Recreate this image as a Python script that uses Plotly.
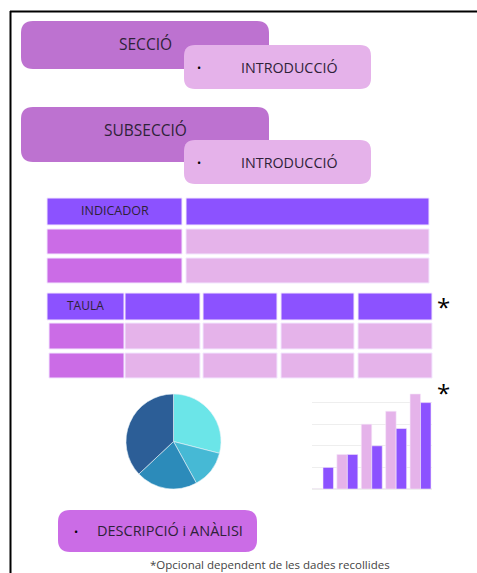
import plotly.graph_objects as go

# ---- data ----
section_labels = ["SECCIÓ", "SUBSECCIÓ"]
bullet_labels = ["INTRODUCCIÓ", "INTRODUCCIÓ"]
indicator_header = "INDICADOR"
table_header = "TAULA"
pie_labels = ["A", "B", "C", "D"]
pie_values = [29, 13, 21, 37]
bar_categories = ["1", "2", "3", "4", "5"]
bar_light = [0, 1.6, 3.0, 3.6, 4.4]
bar_dark = [1.0, 1.6, 2.0, 2.8, 4.0]
analysis_label = "DESCRIPCIÓ i ANÀLISI"
footnote = "*Opcional dependent de les dades recollides"

# ---- styles ----
W, H = 477, 573
FONT = "Open Sans"
TXT = "#2e2238"
C_SECTION = "#bd72d0"
C_BULLET = "#e5b2ea"
C_HEAD = "#8c52ff"
C_ROW = "#cb6ce6"
C_CELL = "#e5b3ea"
PIE_COLORS = ["#6be5e8", "#46b9d5", "#2c8bba", "#2c5e97"]


def rrect(x0, y0, x1, y1, r):
    return (f"M{x0+r},{y0} L{x1-r},{y0} Q{x1},{y0} {x1},{y0+r} "
            f"L{x1},{y1-r} Q{x1},{y1} {x1-r},{y1} L{x0+r},{y1} "
            f"Q{x0},{y1} {x0},{y1-r} L{x0},{y0+r} Q{x0},{y0} {x0+r},{y0} Z")


shapes = []
ann = []


def box(x0, y0, x1, y1, r, color):
    shapes.append(dict(type="path", path=rrect(x0, y0, x1, y1, r), xref="x", yref="y",
                       fillcolor=color, line=dict(width=0), layer="below"))


def cell(x0, y0, x1, y1, color):
    shapes.append(dict(type="rect", x0=x0, y0=y0, x1=x1, y1=y1, xref="x", yref="y",
                       fillcolor=color, line=dict(color="#f3e6ff", width=1), layer="below"))


def text(x, y, s, size, color=TXT, xanchor="center"):
    ann.append(dict(x=x, y=y, xref="x", yref="y", text=s, showarrow=False,
                    xanchor=xanchor, yanchor="middle",
                    font=dict(family=FONT, size=size, color=color)))


# frame
shapes.append(dict(type="line", x0=10, y0=11.5, x1=W, y1=11.5, xref="x", yref="y",
                   line=dict(color="black", width=2)))
shapes.append(dict(type="line", x0=10.5, y0=11, x1=10.5, y1=H, xref="x", yref="y",
                   line=dict(color="black", width=2)))

# section / bullet boxes
sec_y = [(21, 69), (107, 162)]
bul_y = [(45, 89), (140, 184)]
for i in range(2):
    box(21, sec_y[i][0], 269, sec_y[i][1], 12, C_SECTION)
    text(145, sec_y[i][0] + 23, section_labels[i], 15.5)
    box(184, bul_y[i][0], 371, bul_y[i][1], 11, C_BULLET)
    text(199, (bul_y[i][0] + bul_y[i][1]) / 2, "•", 11, color="black")
    text(289, (bul_y[i][0] + bul_y[i][1]) / 2, bullet_labels[i], 14.3)

# indicator table
cell(47, 198, 182, 225, C_HEAD)
cell(186, 198, 429, 225, C_HEAD)
for (y0, y1) in [(229, 254), (258, 283)]:
    cell(47, y0, 182, y1, C_ROW)
    cell(186, y0, 429, y1, C_CELL)
text(115, 210, indicator_header, 12.5)

# second table
cols = [(47, 124), (125, 200), (203, 277), (281, 354), (358, 432)]
for (x0, x1) in cols:
    cell(x0, 293, x1, 320, C_HEAD)
for (y0, y1) in [(323, 349), (353, 378)]:
    cell(49, y0, 124, y1, C_ROW)
    for (x0, x1) in cols[1:]:
        cell(x0, y0, x1, y1, C_CELL)
text(85, 305, table_header, 12)
text(443, 306, "*", 24, color="black")
text(443, 392, "*", 24, color="black")

# analysis box
box(58, 510, 257, 552, 12, C_ROW)
text(76, 531, "•", 11, color="black")
text(170, 530, analysis_label, 14.5)

# footnote
text(270, 564, footnote, 11.5, color="#444444")

fig = go.Figure()

# invisible scatter to carry the pixel axes
fig.add_trace(go.Scatter(x=[0, W], y=[0, H], mode="markers", marker=dict(opacity=0),
                         hoverinfo="skip", showlegend=False, xaxis="x", yaxis="y"))

# pie
cx, cy, r = 173.5, 441.5, 47.5
fig.add_trace(go.Pie(labels=pie_labels, values=pie_values, sort=False, direction="clockwise",
                     rotation=0, textinfo="none", hoverinfo="skip", showlegend=False,
                     marker=dict(colors=PIE_COLORS, line=dict(color="#e8f4f8", width=0.6)),
                     domain=dict(x=[(cx - r) / W, (cx + r) / W],
                                 y=[(H - (cy + r)) / H, (H - (cy - r)) / H])))

# bars
fig.add_trace(go.Bar(x=bar_categories, y=bar_light, marker=dict(color="#e5b3ea", line=dict(color="#f6eafa", width=0.6)),
                     xaxis="x2", yaxis="y2", showlegend=False, hoverinfo="skip"))
fig.add_trace(go.Bar(x=bar_categories, y=bar_dark, marker=dict(color="#8c52ff", line=dict(color="#f6eafa", width=0.6)),
                     xaxis="x2", yaxis="y2", showlegend=False, hoverinfo="skip"))

bx0, bx1, by_top, by_bot = 312, 432, 381, 489
fig.update_layout(
    width=W, height=H, margin=dict(l=0, r=0, t=0, b=0),
    paper_bgcolor="white", plot_bgcolor="rgba(0,0,0,0)",
    barmode="group", bargap=0.14, bargroupgap=0.0,
    xaxis=dict(range=[0, W], domain=[0, 1], visible=False, fixedrange=True),
    yaxis=dict(range=[H, 0], domain=[0, 1], visible=False, fixedrange=True),
    xaxis2=dict(domain=[bx0 / W, bx1 / W], anchor="y2", range=[-0.45, 4.47],
                showticklabels=False, showgrid=False, zeroline=False, ticks=""),
    yaxis2=dict(domain=[(H - by_bot) / H, (H - by_top) / H], anchor="x2", range=[0, 5],
                dtick=1, showticklabels=False, showgrid=True, gridcolor="#eeeeee",
                gridwidth=1, zeroline=True, zerolinecolor="#eeeeee", ticks=""),
    shapes=shapes, annotations=ann,
)

fig.write_html("out.html", config=dict(displayModeBar=False),
               post_script="document.body.style.margin='0';document.body.style.overflow='hidden';")
